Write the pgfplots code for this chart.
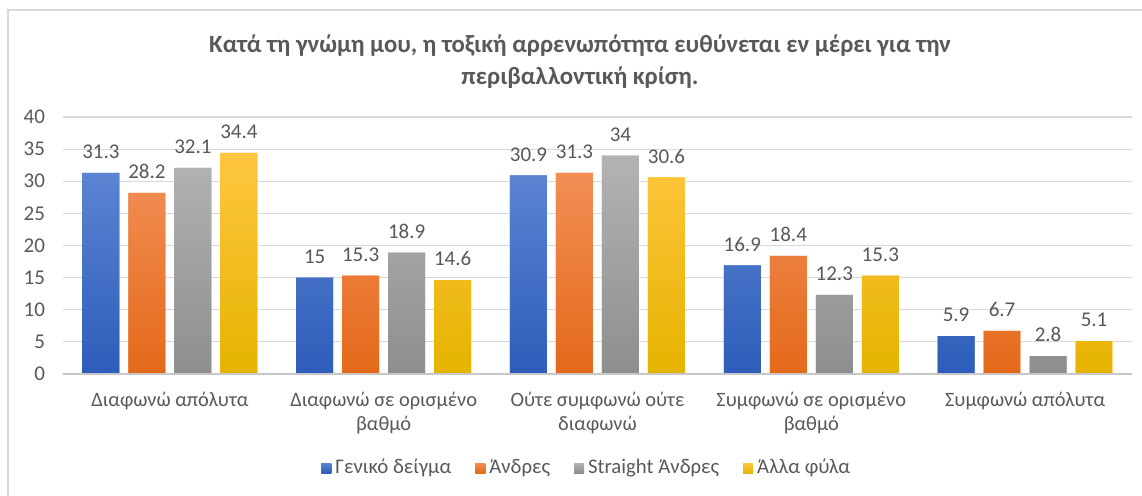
\documentclass[border=0pt]{standalone}
\usepackage{pgfplots}
\pgfplotsset{compat=1.18}
\usepackage{fontspec}
\setmainfont{Carlito}
\definecolor{txt}{HTML}{595959}
\definecolor{ttl}{HTML}{595959}
\definecolor{gridc}{HTML}{D9D9D9}
\definecolor{frm}{HTML}{D9D9D9}
\definecolor{bT}{HTML}{5B84D2}\definecolor{bB}{HTML}{2D5DBA}
\definecolor{oT}{HTML}{F28E55}\definecolor{oB}{HTML}{E4691A}
\definecolor{gT}{HTML}{B3B3B3}\definecolor{gB}{HTML}{8E8E8E}
\definecolor{yT}{HTML}{FFC63F}\definecolor{yB}{HTML}{E5B300}
\pgfplotstableread{
x gen men str oth
0 31.3 28.2 32.1 34.4
1 15   15.3 18.9 14.6
2 30.9 31.3 34   30.6
3 16.9 18.4 12.3 15.3
4 5.9  6.7  2.8  5.1
}\datatable
\begin{document}
\begin{tikzpicture}
\useasboundingbox (-31.5pt,-61pt) rectangle (539.5pt,187pt);
\fill[white] (-31.5pt,-61pt) rectangle (539.5pt,187pt);
\draw[frm, line width=1.2pt] (-27.5pt,-61pt) -- (-27.5pt,182pt) -- (539.5pt,182pt);
\begin{axis}[
  at={(0pt,0pt)}, anchor=south west,
  scale only axis, width=534.5pt, height=128.5pt,
  xmin=-0.5, xmax=4.5, ymin=0, ymax=40,
  ytick={0,5,...,40},
  xtick={0,1,2,3,4},
  xticklabels={{Διαφωνώ απόλυτα},{Διαφωνώ σε ορισμένο\\βαθμό},{Ούτε συμφωνώ ούτε\\διαφωνώ},{Συμφωνώ σε ορισμένο\\βαθμό},{Συμφωνώ απόλυτα}},
  xticklabel style={align=center, font=\fontsize{10.2}{12}\selectfont, text=txt, yshift=-1.2pt},
  yticklabel style={font=\fontsize{10.5}{11}\selectfont, text=txt, xshift=-5.5pt},
  /pgf/number format/assume math mode=true,
  axis line style={draw=none},
  major tick style={draw=none},
  ymajorgrids, grid style={gridc, line width=0.6pt},
  ybar=4.5pt, bar width=18.5pt,
  nodes near coords,
  nodes near coords style={font=\fontsize{10.5}{11}\selectfont, text=txt, yshift=3.5pt, /pgf/number format/assume math mode=true},
  legend columns=4,
  legend style={draw=none, at={(0.491,-0.366)}, anchor=center, font=\fontsize{10.4}{11}\selectfont, text=txt,
    /tikz/every even column/.append style={column sep=10pt}},
  legend image code/.code={\path[#1,draw=none] (0pt,-2.5pt) rectangle (5pt,2.5pt);},
  clip=false,
]
\addplot[draw=none, top color=bT, bottom color=bB, fill=bT] table[x=x,y=gen]{\datatable};
\addplot[draw=none, top color=oT, bottom color=oB, fill=oT] table[x=x,y=men]{\datatable};
\addplot[draw=none, top color=gT, bottom color=gB, fill=gT] table[x=x,y=str]{\datatable};
\addplot[draw=none, top color=yT, bottom color=yB, fill=yT] table[x=x,y=oth]{\datatable};
\legend{Γενικό δείγμα, Άνδρες, Straight Άνδρες, Άλλα φύλα}
\draw[gridc!80!gray, line width=0.7pt] (axis cs:-0.5,0) -- (axis cs:4.5,0);
\end{axis}
\node[align=center, font=\fontsize{12.4}{16}\selectfont\bfseries, text=ttl] at (258.5pt,156pt)
  {Κατά τη γνώμη μου, η τοξική αρρενωπότητα ευθύνεται εν μέρει για την\\περιβαλλοντική κρίση.};
\end{tikzpicture}
\end{document}
